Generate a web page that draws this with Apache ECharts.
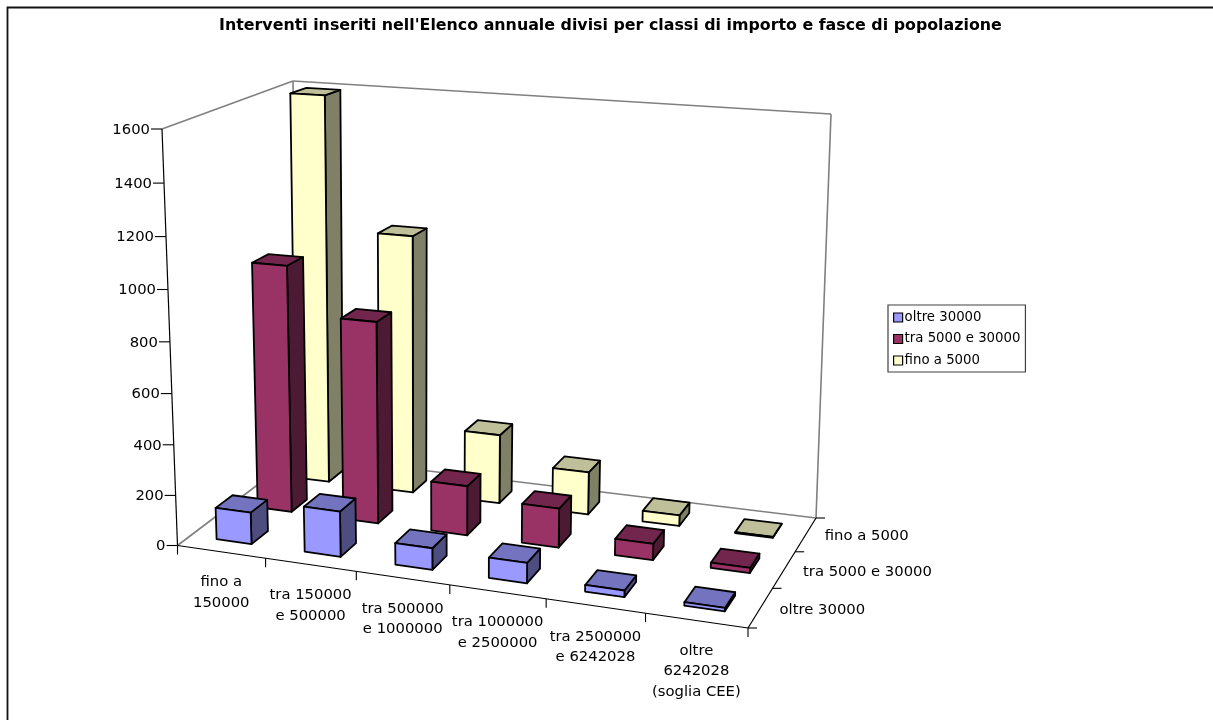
<!DOCTYPE html>
<html><head><meta charset="utf-8">
<style>html,body{margin:0;padding:0;background:#fff}#c{width:1213px;height:720px}</style>
<script src="https://cdn.jsdelivr.net/npm/echarts@6/dist/echarts.min.js"></script>
</head><body><div id="c"></div>
<script>
const titleText = "Interventi inseriti nell'Elenco annuale divisi per classi di importo e fasce di popolazione";
const categories = ['fino a\n150000','tra 150000\ne 500000','tra 500000\ne 1000000','tra 1000000\ne 2500000','tra 2500000\ne 6242028','oltre\n6242028\n(soglia CEE)'];
const depthNames = ['oltre 30000','tra 5000 e 30000','fino a 5000'];
const valueTicks = [0,200,400,600,800,1000,1200,1400,1600];
const oltre30000 = [126,178,84,78,25,13];
const tra5000e30000 = [995,807,197,154,64,20];
const finoA5000 = [1594,1058,283,173,43,3];
const palette = {
  'oltre 30000':{front:'#9999FF',top:'#7373BF',side:'#4D4D80'},
  'tra 5000 e 30000':{front:'#993366',top:'#73264D',side:'#4D1A33'},
  'fino a 5000':{front:'#FFFFCC',top:'#BFBF99',side:'#808066'}
};
const FONT='"DejaVu Sans",Verdana,sans-serif';

// projection of the 3D box onto the page: floor corners + vertical edge vectors
const O=[177.5,545.5],U=[748,628],R=[816,518],V=[297,455];
const hO=[-15.5,-416.5],hU=[13,-455],hR=[15,-404],hV=[-4,-374];
function homography(){
  const sx=O[0]-U[0]+R[0]-V[0], sy=O[1]-U[1]+R[1]-V[1];
  const dx1=U[0]-R[0],dy1=U[1]-R[1],dx2=V[0]-R[0],dy2=V[1]-R[1];
  const det=dx1*dy2-dx2*dy1;
  const g=(sx*dy2-dx2*sy)/det,h=(dx1*sy-sx*dy1)/det;
  return {g,h,a:U[0]-O[0]+g*U[0],b:V[0]-O[0]+h*V[0],d:U[1]-O[1]+g*U[1],e:V[1]-O[1]+h*V[1]};
}
const H=homography();
function project(uRaw,v,w){
  const u=uRaw+0.028*uRaw*(1-uRaw);
  const den=H.g*u+H.h*v+1;
  const fx=(H.a*u+H.b*v+O[0])/den, fy=(H.d*u+H.e*v+O[1])/den;
  const f=w/(1+0.045*(1-w));
  const hx=(1-u)*(1-v)*hO[0]+u*(1-v)*hU[0]+u*v*hR[0]+(1-u)*v*hV[0];
  const hy=(1-u)*(1-v)*hO[1]+u*(1-v)*hU[1]+u*v*hR[1]+(1-u)*v*hV[1];
  return [fx+f*hx,fy+f*hy];
}
const BAR=0.4, NC=categories.length, ND=depthNames.length;

function barItem(name,depth){
  return function(params,api){
    const cs=params.coordSys;
    const c=api.coord([api.value(0),api.value(1)]);
    const uc=(c[0]-cs.x)/cs.width, w=(cs.y+cs.height-c[1])/cs.height;
    const du=BAR/NC/2, vc=(depth+0.5)/ND, dv=BAR/ND/2;
    const u0=uc-du,u1=uc+du,v0=vc-dv,v1=vc+dv;
    const col=palette[name];
    const st=(fill)=>({fill,stroke:'#000',lineWidth:1.8,lineJoin:'round'});
    const poly=(pts,fill)=>({type:'polygon',shape:{points:pts},style:st(fill)});
    return {type:'group',children:[
      poly([project(u1,v0,0),project(u1,v1,0),project(u1,v1,w),project(u1,v0,w)],col.side),
      poly([project(u0,v0,w),project(u1,v0,w),project(u1,v1,w),project(u0,v1,w)],col.top),
      poly([project(u0,v0,0),project(u1,v0,0),project(u1,v0,w),project(u0,v0,w)],col.front)
    ]};
  };
}
function line(a,b,color,lw){return {type:'line',shape:{x1:a[0],y1:a[1],x2:b[0],y2:b[1]},style:{stroke:color,lineWidth:lw||1.5}};}
function text(x,y,s,align,font){return {type:'text',style:{x,y,text:s,align:align||'center',verticalAlign:'middle',fill:'#000',font:font||('14.8px '+FONT),lineHeight:20.5}};}

function frameItem(params,api){
  const cs=params.coordSys, ch=[];
  const gray='#808080',dark='#000';
  ch.push(line(project(0,0,1),project(0,1,1),gray,1.6));
  ch.push(line(project(0,1,1),project(1,1,1),gray,1.6));
  ch.push(line(project(1,1,1),project(1,1,0),gray,1.6));
  ch.push(line(project(0,1,1),project(0,1,0),gray,1.6));
  ch.push(line(project(0,0,0),project(0,1,0),gray,1.6));
  ch.push(line(project(0,1,0),project(1,1,0),gray,1.6));
  ch.push(line(project(0,0,0),project(0,0,1),dark,1.2));
  ch.push(line(project(0,0,0),project(1,0,0),dark,1.2));
  ch.push(line(project(1,0,0),project(1,1,0),dark,1.2));
  valueTicks.forEach(t=>{
    const yp=api.coord([0,t])[1], w=(cs.y+cs.height-yp)/cs.height;
    const p=project(0,0,w);
    ch.push(line([p[0]-11,p[1]],p,dark,1.1));
    ch.push(text(p[0]-12,p[1]+1,String(t),'right'));
  });
  for(let i=0;i<=NC;i++){
    const p=project(i/NC,0,0);
    ch.push(line(p,[p[0],p[1]+9],dark,1.1));
    if(i<NC){
      const m=project((i+0.5)/NC,0,0);
      const n=categories[i].split('\n').length;
      ch.push(text(m[0],m[1]+41+(n-2)*10,categories[i]));
    }
  }
  for(let d=0;d<=ND;d++){
    const p=project(1,d/ND,0);
    ch.push(line(p,[p[0]+9,p[1]],dark,1.1));
    if(d<ND){
      const m=project(1,(d+0.5)/ND,0);
      ch.push(text(m[0]+19,m[1]+2,depthNames[d],'left'));
    }
  }
  return {type:'group',children:ch};
}

function barSeries(name,depth,vals){
  return {name,type:'custom',coordinateSystem:'cartesian2d',silent:true,z:3,
    itemStyle:{color:palette[name].front},
    encode:{x:0,y:1},
    data:vals.map((v,i)=>[i,v]),renderItem:barItem(name,depth),clip:false};
}
const chart=echarts.init(document.getElementById('c'),null,{renderer:'canvas'});
chart.setOption({
  animation:false,backgroundColor:'#fff',
  title:{text:titleText,left:219,top:18,padding:0,
    textStyle:{fontFamily:FONT,fontSize:15.85,fontWeight:'bold',color:'#000'}},
  legend:{data:depthNames,orient:'vertical',left:888,top:305,padding:[6,5,5,5],itemGap:8.5,itemWidth:9,itemHeight:9,
    icon:'rect',borderColor:'#404040',borderWidth:1.2,backgroundColor:'#fff',selectedMode:false,
    itemStyle:{borderColor:'#000',borderWidth:1.2},
    textStyle:{fontFamily:FONT,fontSize:13.3,color:'#000',padding:[0,0,0,-3]}},
  grid:{left:0,right:0,top:0,bottom:0,show:false},
  xAxis:{type:'category',data:categories,show:false},
  yAxis:{type:'value',min:0,max:1600,interval:200,show:false},
  graphic:[{type:'rect',silent:true,z:0,shape:{x:7.5,y:7.5,width:1220,height:730},style:{fill:'none',stroke:'#111',lineWidth:1.8}}],
  series:[
    {type:'custom',name:'frame',coordinateSystem:'cartesian2d',silent:true,z:2,data:[[0,0]],encode:{x:0,y:1},renderItem:frameItem,clip:false},
    barSeries('fino a 5000',2,finoA5000),
    barSeries('tra 5000 e 30000',1,tra5000e30000),
    barSeries('oltre 30000',0,oltre30000)
  ]
});
</script></body></html>
